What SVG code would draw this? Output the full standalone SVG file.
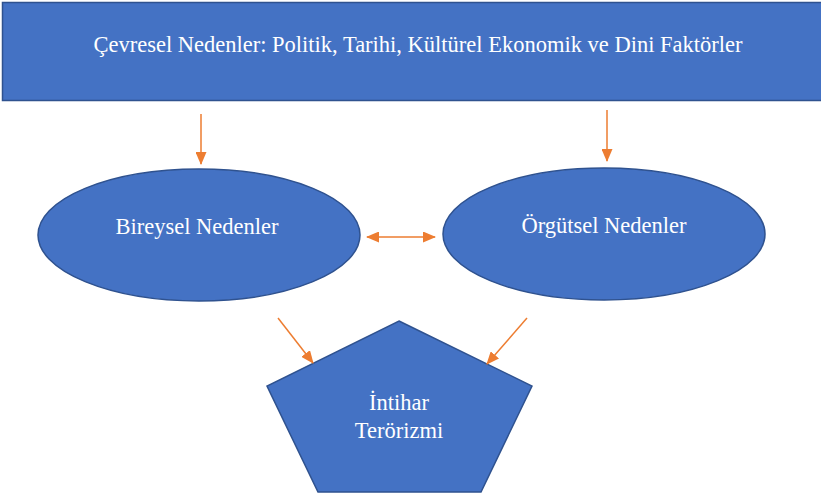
<svg xmlns="http://www.w3.org/2000/svg" width="821" height="494" viewBox="0 0 821 494">
<style>
.shape{fill:#4472C4;stroke:#2F528F;stroke-width:1.5}
.lbl{font-family:'Times New Roman','Liberation Serif',serif;font-size:22.5px;fill:#FFFFFF;text-anchor:middle}
.conn{stroke:#ED7D31;stroke-width:1.5;fill:none}
</style>
<defs>
<marker id="ah" viewBox="0 0 13 11" refX="12" refY="5.5" markerWidth="13" markerHeight="11" orient="auto-start-reverse" markerUnits="userSpaceOnUse">
<path d="M0,0 L13,5.5 L0,11 z" fill="#ED7D31"/>
</marker>
</defs>
<rect width="821" height="494" fill="#FFFFFF"/>
<g id="cevresel">
<rect class="shape" x="2.5" y="2.5" width="830" height="98"/>
<text class="lbl" x="418" y="52">Çevresel Nedenler: Politik, Tarihi, Kültürel Ekonomik ve Dini Faktörler</text>
</g>
<g id="bireysel">
<ellipse class="shape" cx="199" cy="235" rx="161" ry="66"/>
<text class="lbl" x="197" y="234">Bireysel Nedenler</text>
</g>
<g id="orgutsel">
<ellipse class="shape" cx="604" cy="234" rx="161" ry="66"/>
<text class="lbl" x="604" y="233">Örgütsel Nedenler</text>
</g>
<g id="intihar">
<polygon class="shape" points="399,321 532,386 481,492 318,492 267,386"/>
<text class="lbl" x="399" y="410">İntihar</text>
<text class="lbl" x="399" y="438">Terörizmi</text>
</g>
<g id="connectors">
<line class="conn" x1="201" y1="114" x2="201" y2="164" marker-end="url(#ah)"/>
<line class="conn" x1="607" y1="110" x2="607" y2="161" marker-end="url(#ah)"/>
<line class="conn" x1="367" y1="237" x2="435" y2="237" marker-start="url(#ah)" marker-end="url(#ah)"/>
<line class="conn" x1="278" y1="318" x2="313" y2="363" marker-end="url(#ah)"/>
<line class="conn" x1="527" y1="318" x2="487" y2="364" marker-end="url(#ah)"/>
</g>
</svg>
